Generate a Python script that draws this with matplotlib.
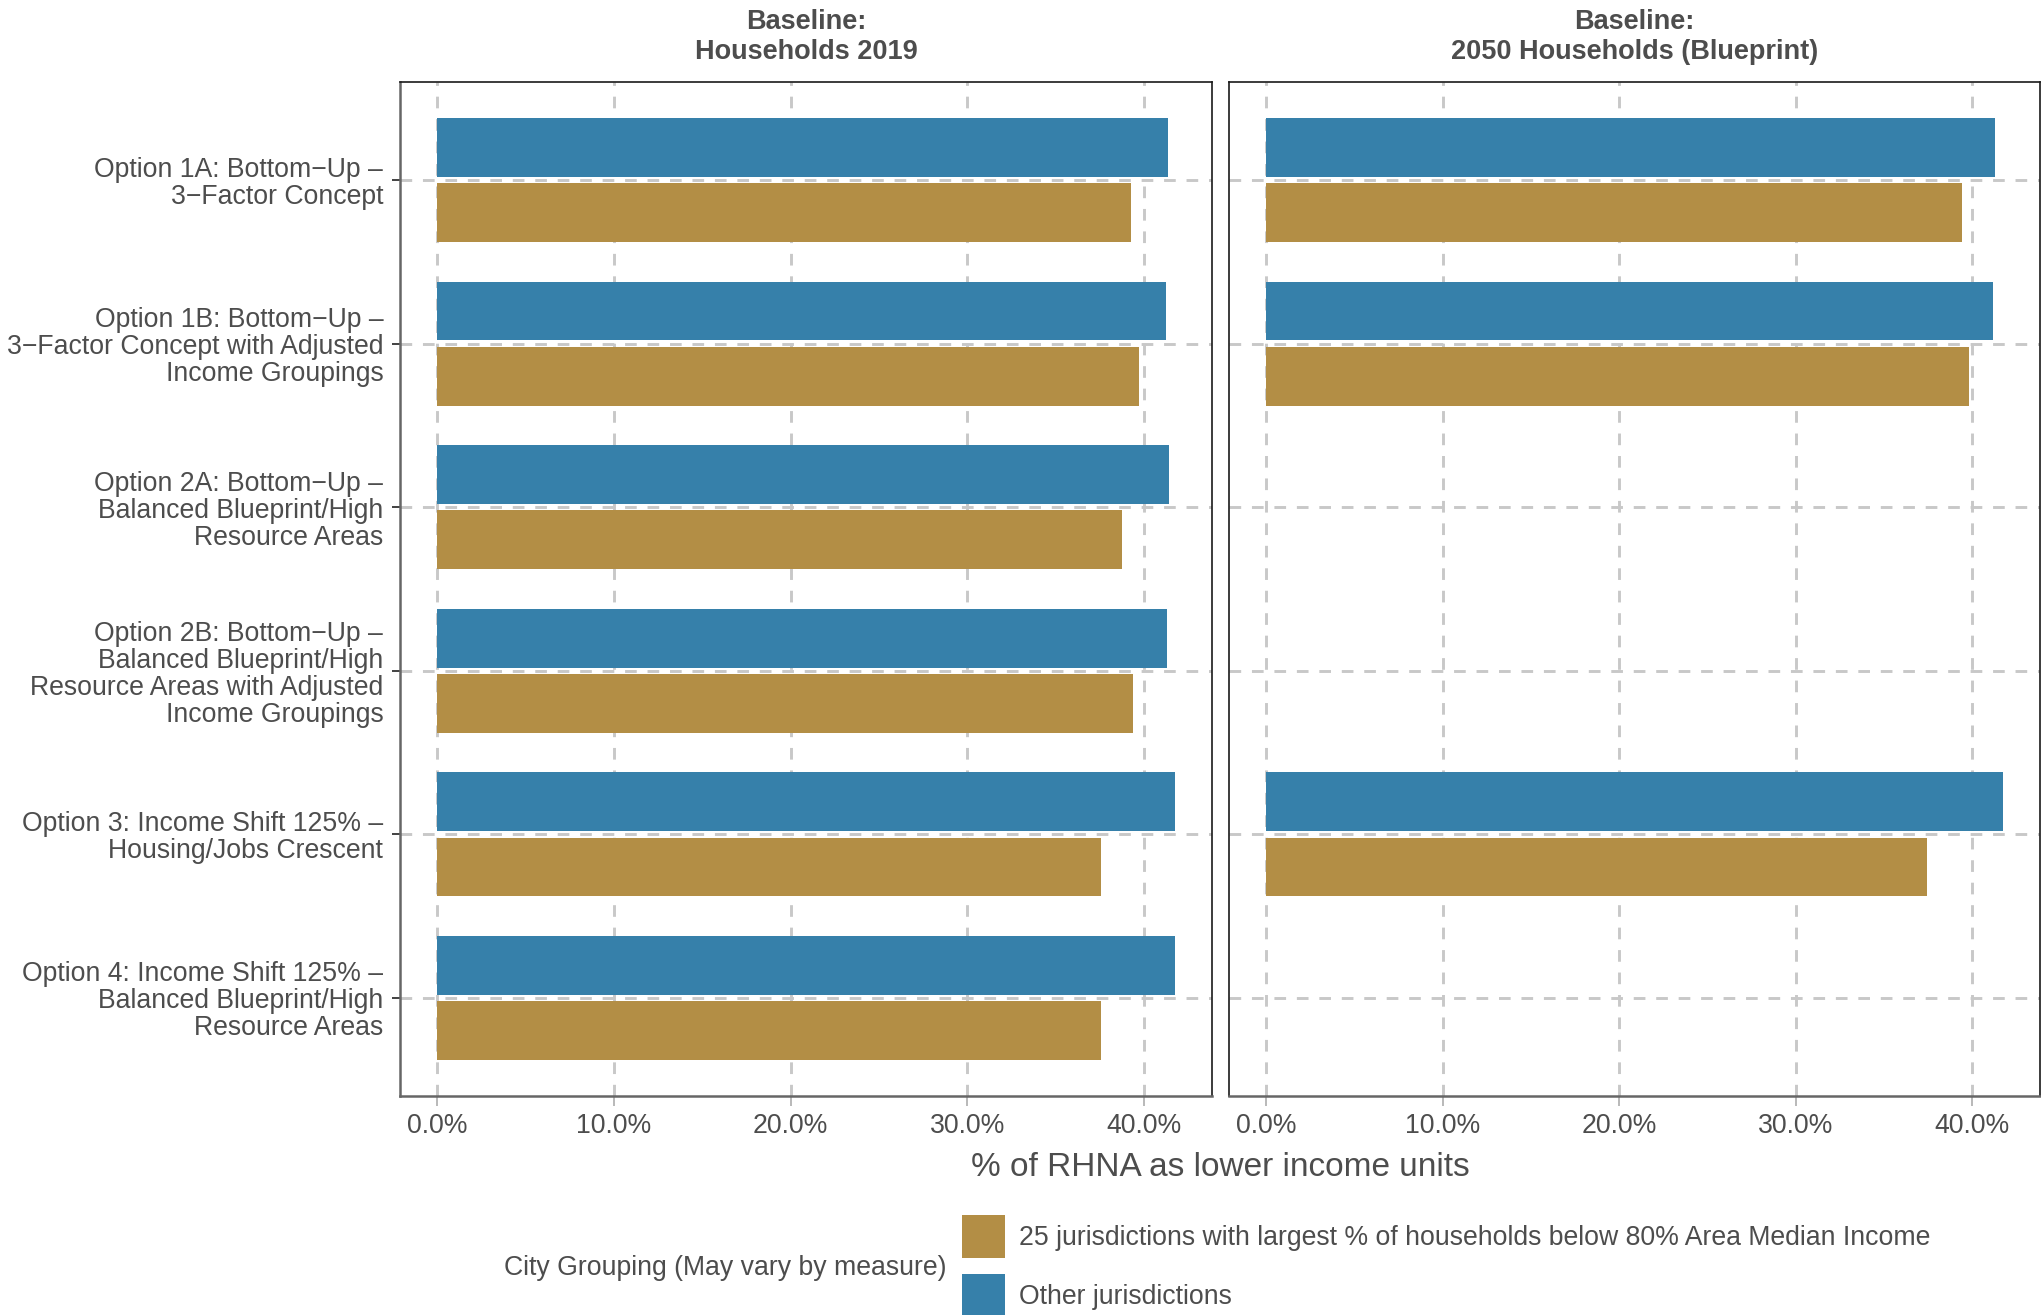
import numpy as np
import matplotlib
matplotlib.use("Agg")
import matplotlib.pyplot as plt
from matplotlib.patches import Patch
from matplotlib.ticker import FuncFormatter

plt.rcParams['font.family'] = ['Liberation Sans', 'DejaVu Sans']

# data (percent of RHNA as lower income units)
options = [
    "Option 1A: Bottom\u2212Up \u2013\n3\u2212Factor Concept",
    "Option 1B: Bottom\u2212Up \u2013\n3\u2212Factor Concept with Adjusted\nIncome Groupings",
    "Option 2A: Bottom\u2212Up \u2013\nBalanced Blueprint/High\nResource Areas",
    "Option 2B: Bottom\u2212Up \u2013\nBalanced Blueprint/High\nResource Areas with Adjusted\nIncome Groupings",
    "Option 3: Income Shift 125% \u2013\nHousing/Jobs Crescent",
    "Option 4: Income Shift 125% \u2013\nBalanced Blueprint/High\nResource Areas",
]
panels = ["Baseline:\nHouseholds 2019", "Baseline:\n2050 Households (Blueprint)"]
other_2019 = [41.34, 41.23, 41.40, 41.28, 41.74, 41.74]
low_2019 = [39.25, 39.70, 38.75, 39.37, 37.56, 37.56]
other_2050 = [41.28, 41.17, np.nan, np.nan, 41.74, np.nan]
low_2050 = [39.42, 39.82, np.nan, np.nan, 37.45, np.nan]

series_names = ["25 jurisdictions with largest % of households below 80% Area Median Income",
                "Other jurisdictions"]
gold = "#B38E45"
blue = "#3680AA"
txt = "#4D4D4D"

W, H = 2041, 1315
fig = plt.figure(figsize=(W / 100, H / 100), dpi=100)

ax1 = fig.add_axes([400 / W, 1 - 1096 / H, (1212 - 400) / W, (1096 - 82) / H])
ax2 = fig.add_axes([1229 / W, 1 - 1096 / H, (2040 - 1229) / W, (1096 - 82) / H])

ypos = np.arange(len(options))[::-1] + 1.0
fmt = FuncFormatter(lambda v, p: f"{v:.1f}%")

for ax, title, oth, low in [(ax1, panels[0], other_2019, low_2019),
                            (ax2, panels[1], other_2050, low_2050)]:
    ax.barh(ypos + 0.2, oth, height=0.36, color=blue, zorder=3)
    ax.barh(ypos - 0.2, low, height=0.36, color=gold, zorder=3)
    ax.set_xlim(-2.09, 43.83)
    ax.set_ylim(0.4, 6.6)
    ax.set_xticks([0, 10, 20, 30, 40])
    ax.xaxis.set_major_formatter(fmt)
    ax.set_yticks(ypos)
    ax.grid(True, color="#C8C8C8", linestyle=(0, (4, 3.7)), linewidth=2.1, zorder=0)
    ax.set_axisbelow(True)
    ax.tick_params(axis="x", length=7, width=1.3, color="#B3B3B3", labelsize=19.2,
                   labelcolor=txt, pad=5)
    for s in ax.spines.values():
        s.set_color("#1A1A1A")
        s.set_linewidth(1.2)
    ax.spines["bottom"].set_color("#666666")
    ax.spines["bottom"].set_linewidth(1.8)
    ax.text(0.5, 1 + 45 / 1014, title, transform=ax.transAxes, ha="center", va="center",
            fontsize=19.5, fontweight="bold", color=txt, linespacing=1.24)

ax1.set_yticklabels(options, fontsize=19.2, color=txt, linespacing=1.05)
ax1.tick_params(axis="y", length=6, width=1.3, color="#333333", pad=6)
ax1.spines["left"].set_color("#666666")
ax1.spines["left"].set_linewidth(1.8)
ax2.tick_params(axis="y", length=0, labelleft=False)

fig.text(1220 / W, 1 - 1168 / H, "% of RHNA as lower income units", ha="center", va="center",
         fontsize=24, color=txt)

# legend
fig.text(946 / W, 1 - 1268 / H, "City Grouping (May vary by measure)", ha="right", va="center",
         fontsize=19.2, color=txt)
handles = [Patch(facecolor=gold), Patch(facecolor=blue)]
fig.legend(handles, series_names, loc="center left", bbox_to_anchor=(962 / W, 1 - 1266 / H),
           frameon=False, fontsize=19.2, labelcolor=txt, handlelength=1.6, handleheight=2.11,
           labelspacing=0.6, handletextpad=0.55, borderpad=0, borderaxespad=0)

fig.savefig("out.png", dpi=100, facecolor="white")
